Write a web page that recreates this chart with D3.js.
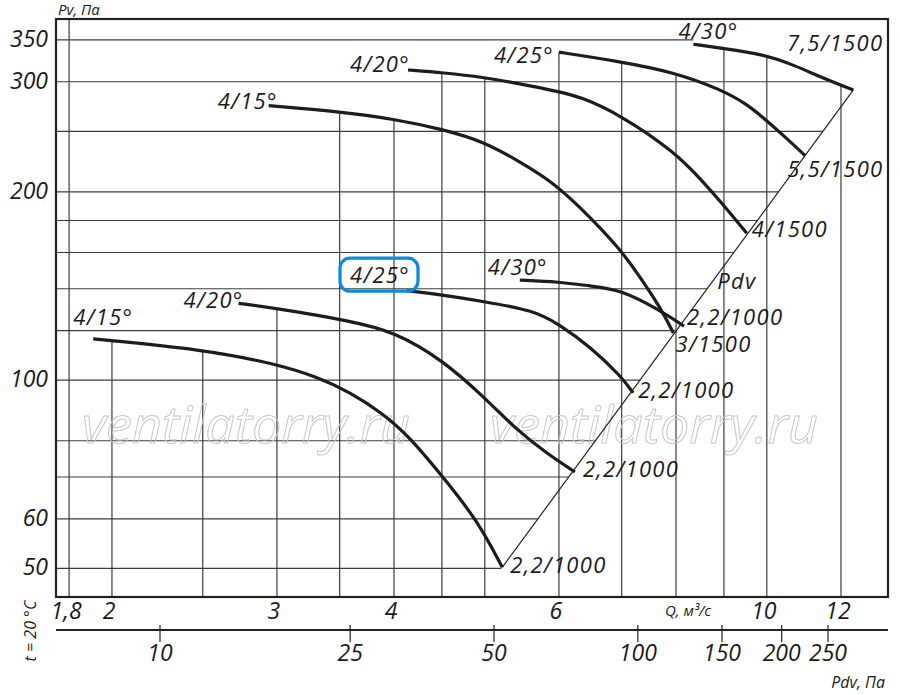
<!DOCTYPE html>
<html><head><meta charset="utf-8">
<script src="https://cdn.jsdelivr.net/npm/d3@7"></script>
<style>
body{margin:0;background:#fff;}
svg text{font-family:"Open Sans",sans-serif;font-style:italic;fill:#1a1a1a;}
</style></head><body>
<svg id="chart" width="900" height="695"></svg>
<script>
// ---------- data ----------
const qTicks = [1.8, 2, 3, 4, 6, 10, 12];
const qTickLabels = ["1,8", "2", "3", "4", "6", "10", "12"];
const qGrid = [1.8, 2, 2.5, 3, 3.5, 4, 4.5, 5, 6, 7, 8, 9, 10, 12];
const pvTicks = [50, 60, 100, 200, 300, 350];
const pvGrid = [50, 60, 70, 80, 100, 120, 140, 160, 180, 200, 250, 300, 350];
const pdvTicks = [10, 25, 50, 100, 150, 200, 250];

// curves: [Q m3/s, Pv Pa]
const low15 = [[1.91,116.4],[2.50,112.0],[3.0,106.1],[3.31,101.2],[3.59,95.7],[3.89,88.5],[4.16,81.0],[4.51,70.0],[4.91,59.7],[5.22,50.2]];
const low20 = [[2.73,132.7],[3.0,130.2],[3.59,124.4],[4.01,119.5],[4.51,107.6],[4.99,94.0],[5.41,83.2],[5.82,76.4],[6.24,71.3]];
const low25 = [[4.13,139.0],[4.51,136.8],[4.99,133.5],[5.63,129.4],[6.0,122.9],[6.48,113.1],[7.0,101.2],[7.20,95.4]];
const low30 = [[5.45,144.5],[6.0,143.6],[6.48,141.4],[6.97,139.7],[7.69,129.4],[8.16,122.0]];
const up15 = [[2.94,274.7],[3.50,268.8],[4.0,261.6],[4.51,251.8],[4.99,240.6],[5.41,224.9],[5.87,208.9],[6.32,189.3],[6.97,162.4],[7.32,146.3],[7.69,131.0],[7.95,118.9]];
const up20 = [[4.14,313.3],[4.51,310.2],[4.99,305.0],[5.41,298.4],[6.0,289.3],[6.32,284.0],[6.98,265.5],[7.97,231.9],[8.55,207.6],[8.96,191.7],[9.52,171.7]];
const up25 = [[6.0,334.5],[6.98,323.1],[7.97,310.7],[8.96,291.1],[9.52,276.2],[9.93,262.3],[10.50,243.6],[10.99,228.5]];
const up30 = [[8.35,344.4],[8.96,339.4],[9.93,331.9],[10.68,319.2],[11.49,303.9],[12.37,291.1]];
const pdvLine = [[5.22,50.2],[12.37,291.1]];

const angleLabels = ["4/15°","4/20°","4/25°","4/30°","4/15°","4/20°","4/25°","4/30°"];
const motorLabels = ["2,2/1000","2,2/1000","2,2/1000","2,2/1000","3/1500","4/1500","5,5/1500","7,5/1500"];

// ---------- layout ----------
const plot = {l:56, r:888, t:19, b:597};
const x = d3.scaleLog().domain([1.743, 13.47]).range([plot.l, plot.r]);
const y = d3.scaleLog().domain([45, 378]).range([plot.b, plot.t]);
const xPdv = d3.scaleLog().domain([10, 250]).range([160, 828]);

const curves = [low15, low20, low25, low30, up15, up20, up25, up30];
// label offsets (px) relative to curve start / end
const startLayout = [
  {dx:-20,dy:-14,a:"start"},{dx:5,dy:5,a:"end"},{dx:3,dy:-8,a:"end"},{dx:-32,dy:-5,a:"start"},
  {dx:9,dy:3,a:"end"},{dx:2,dy:2,a:"end"},{dx:-5,dy:11,a:"end"},{dx:-15,dy:-5,a:"start"}
];
const endLayout = [
  {dx:8,dy:6,a:"start"},{dx:8,dy:5,a:"start"},{dx:5,dy:5,a:"start"},{dx:3,dy:-1,a:"start"},
  {dx:2,dy:19,a:"start"},{dx:5,dy:4,a:"start"},{dx:-18,dy:21,a:"start"},{dx:30,dy:-39,a:"end"}
];

const svg = d3.select("#chart");
const gGrid = svg.append("g");
const gMark = svg.append("g");
const gCurves = svg.append("g");
const gText = svg.append("g");

// ---------- curves ----------
const line = d3.line().x(d => x(d[0])).y(d => y(d[1])).curve(d3.curveBasis);
const series = curves.map((pts, i) => {
  const path = gCurves.append("path").datum(pts).attr("d", line)
    .attr("fill", "none").attr("stroke", "#1c1c1c").attr("stroke-width", 3.2)
    .attr("stroke-linecap", "butt");
  const node = path.node(), L = node.getTotalLength(), samples = [];
  for (let l = 0; l <= L; l += 0.5) { const p = node.getPointAtLength(l); samples.push([p.x, p.y]); }
  return {pts, samples, i};
});
function yAt(s, px) {
  const a = s.samples;
  if (px < a[0][0] - 0.01 || px > a[a.length - 1][0]) return null;
  let best = a[0];
  for (const p of a) if (Math.abs(p[0] - px) < Math.abs(best[0] - px)) best = p;
  return best[1];
}

// Pdv diagonal
const d0 = [x(pdvLine[0][0]), y(pdvLine[0][1])], d1 = [x(pdvLine[1][0]), y(pdvLine[1][1])];
gCurves.append("line").attr("x1", d0[0]).attr("y1", d0[1]).attr("x2", d1[0]).attr("y2", d1[1])
  .attr("stroke", "#222").attr("stroke-width", 1.2);

// ---------- grid ----------
qGrid.forEach(q => {
  const px = x(q);
  const tops = series.map(s => {
    const off = px - s.samples[0][0];
    if (off < -1.5) return null;
    if (off > 1.5 && off < 12) return null; // grid hidden just after a curve start label
    return yAt(s, Math.max(px, s.samples[0][0]));
  }).filter(v => v != null);
  const top = tops.length ? Math.min(...tops) : plot.t;
  gGrid.append("line").attr("x1", px).attr("x2", px).attr("y1", top).attr("y2", plot.b)
    .attr("stroke", "#3c3c3c").attr("stroke-width", 1.2);
});
const s30 = series[7].samples;
pvGrid.forEach(p => {
  const py = y(p);
  let xr;
  if (py >= d1[1]) xr = d0[0] + (d0[1] - py) / (d0[1] - d1[1]) * (d1[0] - d0[0]);
  else if (py <= s30[0][1]) xr = s30[0][0];
  else { let best = s30[0]; for (const s of s30) if (Math.abs(s[1] - py) < Math.abs(best[1] - py)) best = s; xr = best[0]; }
  gGrid.append("line").attr("x1", plot.l).attr("x2", xr).attr("y1", py).attr("y2", py)
    .attr("stroke", "#3c3c3c").attr("stroke-width", 1.2);
});

// ---------- watermark ----------
[[82, 443], [490, 443]].forEach(([wx, wy]) => {
  gMark.append("text").attr("x", wx).attr("y", wy).text("ventilatorry.ru")
    .attr("font-size", 52).attr("textLength", 328).attr("lengthAdjust", "spacingAndGlyphs")
    .style("fill", "none").attr("stroke", "#c8c8c8").attr("stroke-width", 1);
});

// ---------- curve labels ----------
const lblFont = 22, lblSpacing = 1.3;
series.forEach((s, i) => {
  const st = s.pts[0], en = s.pts[s.pts.length - 1];
  const sl = startLayout[i], el = endLayout[i];
  const t = gText.append("text").attr("x", x(st[0]) + sl.dx).attr("y", y(st[1]) + sl.dy)
    .attr("text-anchor", sl.a).attr("font-size", lblFont).attr("letter-spacing", lblSpacing)
    .text(angleLabels[i]);
  if (i === 2) {
    const bb = t.node().getBBox();
    gText.append("rect").attr("x", bb.x - 10).attr("y", bb.y - 0.5)
      .attr("width", bb.width + 18).attr("height", bb.height + 3).attr("rx", 10)
      .attr("fill", "none").attr("stroke", "#0a8ad8").attr("stroke-width", 3.2);
  }
  gText.append("text").attr("x", x(en[0]) + el.dx).attr("y", y(en[1]) + el.dy)
    .attr("text-anchor", el.a).attr("font-size", lblFont).attr("letter-spacing", lblSpacing)
    .text(motorLabels[i]);
});
// "Pdv" label along the diagonal at Pv = 140
{
  const py = y(140), px = d0[0] + (d0[1] - py) / (d0[1] - d1[1]) * (d1[0] - d0[0]);
  gText.append("text").attr("x", px + 10).attr("y", py).attr("font-size", lblFont)
    .attr("letter-spacing", lblSpacing).text("Pdv");
}

// ---------- frame ----------
svg.append("rect").attr("x", plot.l).attr("y", plot.t).attr("width", plot.r - plot.l)
  .attr("height", plot.b - plot.t).attr("fill", "none").attr("stroke", "#222").attr("stroke-width", 2.2);

// ---------- axes ----------
const gAx = svg.append("g");
pvTicks.forEach(p => {
  gAx.append("text").attr("x", 48).attr("y", y(p) + 7).attr("text-anchor", "end")
    .attr("font-size", 23).text(p);
});
gAx.append("text").attr("x", 58).attr("y", 15).attr("font-size", 15).text("Pv, Па");

qTicks.forEach((q, i) => {
  gAx.append("text").attr("x", x(q) - 3).attr("y", 619).attr("text-anchor", "middle")
    .attr("font-size", 23).text(qTickLabels[i]);
});
gAx.append("text").attr("x", 665).attr("y", 616).attr("font-size", 15).text("Q, м³/с");

// Pdv axis
gAx.append("line").attr("x1", plot.l).attr("x2", plot.r).attr("y1", 630).attr("y2", 630)
  .attr("stroke", "#222").attr("stroke-width", 2.2);
pdvTicks.forEach(p => {
  gAx.append("line").attr("x1", xPdv(p)).attr("x2", xPdv(p)).attr("y1", 625).attr("y2", 642)
    .attr("stroke", "#222").attr("stroke-width", 1.2);
  gAx.append("text").attr("x", xPdv(p)).attr("y", 661).attr("text-anchor", "middle")
    .attr("font-size", 23).text(p);
});
gAx.append("text").attr("x", 885).attr("y", 688).attr("text-anchor", "end")
  .attr("font-size", 16).text("Pdv, Па");
gAx.append("text").attr("transform", "translate(36,631) rotate(-90)").attr("text-anchor", "middle")
  .attr("font-size", 16).text("t = 20 °C");
</script>
</body></html>
